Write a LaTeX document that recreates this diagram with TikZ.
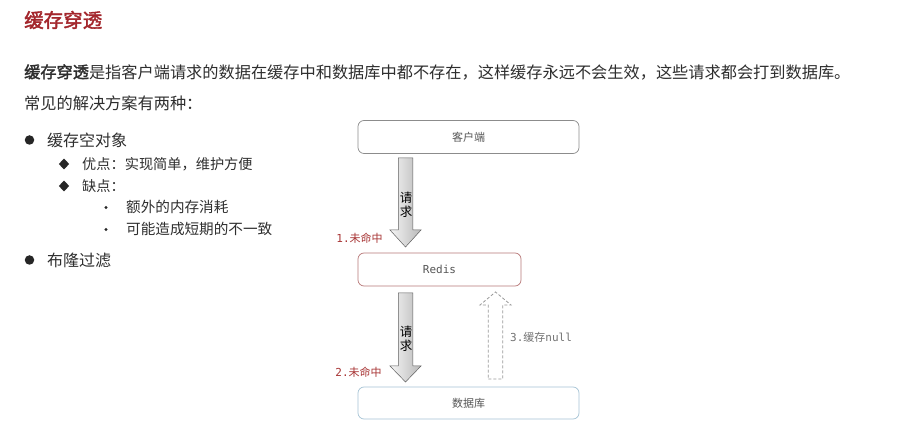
\documentclass[tikz,border=0pt]{standalone}
\usepackage{fontspec}
\setmainfont{Noto Sans CJK SC}[AutoFakeBold=2]
\newfontfamily\mono{DejaVu Sans Mono}
\usetikzlibrary{calc,shapes.geometric}
\definecolor{titlered}{HTML}{A3262C}
\definecolor{txt}{HTML}{2E2E2E}
\definecolor{lblred}{HTML}{A83535}
\definecolor{boxtxt}{HTML}{555555}
\definecolor{clientline}{HTML}{8C8C8C}
\definecolor{redisline}{HTML}{B87878}
\definecolor{dbline}{HTML}{A5C3D5}
\newcommand\fatshape[4]{% center x, start y, head base y, tip y
  (#1-7.25,#2) -- (#1+7.25,#2) -- (#1+7.25,#3) -- (#1+15.5,#3) -- (#1,#4)
  -- (#1-15.5,#3) -- (#1-7.25,#3) -- cycle}
\tikzset{
  body/.style={anchor=west, inner sep=0, text=txt},
  boxnode/.style={draw, rounded corners=6pt, line width=0.7pt, inner sep=0,
    text=boxtxt, font=\fontsize{11}{13}\selectfont},
  bigdot/.style={circle, fill=black!85, minimum size=9.5pt, inner sep=0},
  diam/.style={diamond, fill=black!85, minimum width=10.5pt, minimum height=11pt, inner sep=0},
  smalldot/.style={circle, fill=black!85, minimum size=3.4pt, inner sep=0},
  fatarrow/.style={draw=gray!75!black, line width=0.5pt, left color=gray!8, right color=gray!55},
  dasharrow/.style={draw=gray!80, line width=0.8pt, dash pattern=on 3pt off 2pt, fill=white},
  vlabel/.style={inner sep=0, align=center, font=\fontsize{12.5}{14}\selectfont, text=black},
  misslabel/.style={inner sep=0, text=lblred, font=\fontsize{11}{13}\selectfont},
}
\begin{document}
\begin{tikzpicture}[x=1pt,y=-1pt]
\useasboundingbox (0,0) rectangle (902,427);
\fill[white] (0,0) rectangle (902,427);

% text part
\node[body, text=titlered, font=\fontsize{19.5}{22}\selectfont\bfseries] (title) at (24,20) {缓存穿透};
\node[body, font=\fontsize{16.2}{18}\selectfont] (para) at (24,72)
  {\textbf{缓存穿透}是指客户端请求的数据在缓存中和数据库中都不存在，这样缓存永远不会生效，这些请求都会打到数据库。};
\node[body, font=\fontsize{16.2}{18}\selectfont] (intro) at (24,103) {常见的解决方案有两种：};

\node[bigdot] (b1) at (29.5,140) {};
\node[body, font=\fontsize{16}{18}\selectfont] (t1) at (47,140) {缓存空对象};
\node[diam] (d1) at (64,164) {};
\node[body, font=\fontsize{14.2}{16}\selectfont] (t11) at (82,164) {优点：实现简单，维护方便};
\node[diam] (d2) at (64,186) {};
\node[body, font=\fontsize{14.2}{16}\selectfont] (t12) at (82,186) {缺点：};
\node[smalldot] (s1) at (106,207.5) {};
\node[body, font=\fontsize{14.6}{16}\selectfont] (t121) at (126,207) {额外的内存消耗};
\node[smalldot] (s2) at (106,229.5) {};
\node[body, font=\fontsize{14.6}{16}\selectfont] (t122) at (126,229) {可能造成短期的不一致};
\node[bigdot] (b2) at (29.5,260) {};
\node[body, font=\fontsize{16}{18}\selectfont] (t2) at (47,260) {布隆过滤};

% diagram
\node[boxnode, draw=clientline, minimum width=221pt, minimum height=33pt] (client) at (468.5,137) {客户端};
\node[boxnode, draw=redisline, minimum width=163pt, minimum height=33pt] (redis) at (439.5,269.5) {\mono Redis};
\node[boxnode, draw=dbline, minimum width=221pt, minimum height=32pt] (db) at (468.5,403) {数据库};

% arrow 1: client -> redis
\path[fatarrow] \fatshape{405.5}{158}{230}{247};
\node[vlabel] (req1) at (406,205) {请\\求};
\node[misslabel] (miss1) at (359.5,238.5) {{\mono 1.}未命中};

% arrow 2: redis -> db
\path[fatarrow] \fatshape{405.5}{293}{366}{382};
\node[vlabel] (req2) at (406,339) {请\\求};
\node[misslabel] (miss2) at (358.5,372) {{\mono 2.}未命中};

% arrow 3: db -> redis (dashed, upward)
\path[dasharrow] \fatshape{495.5}{379}{305}{292};
\node[inner sep=0, anchor=west, text=gray!90!black, font=\fontsize{11}{13}\selectfont] (cache) at (510,337) {{\mono 3.}缓存{\mono null}};
\end{tikzpicture}
\end{document}
